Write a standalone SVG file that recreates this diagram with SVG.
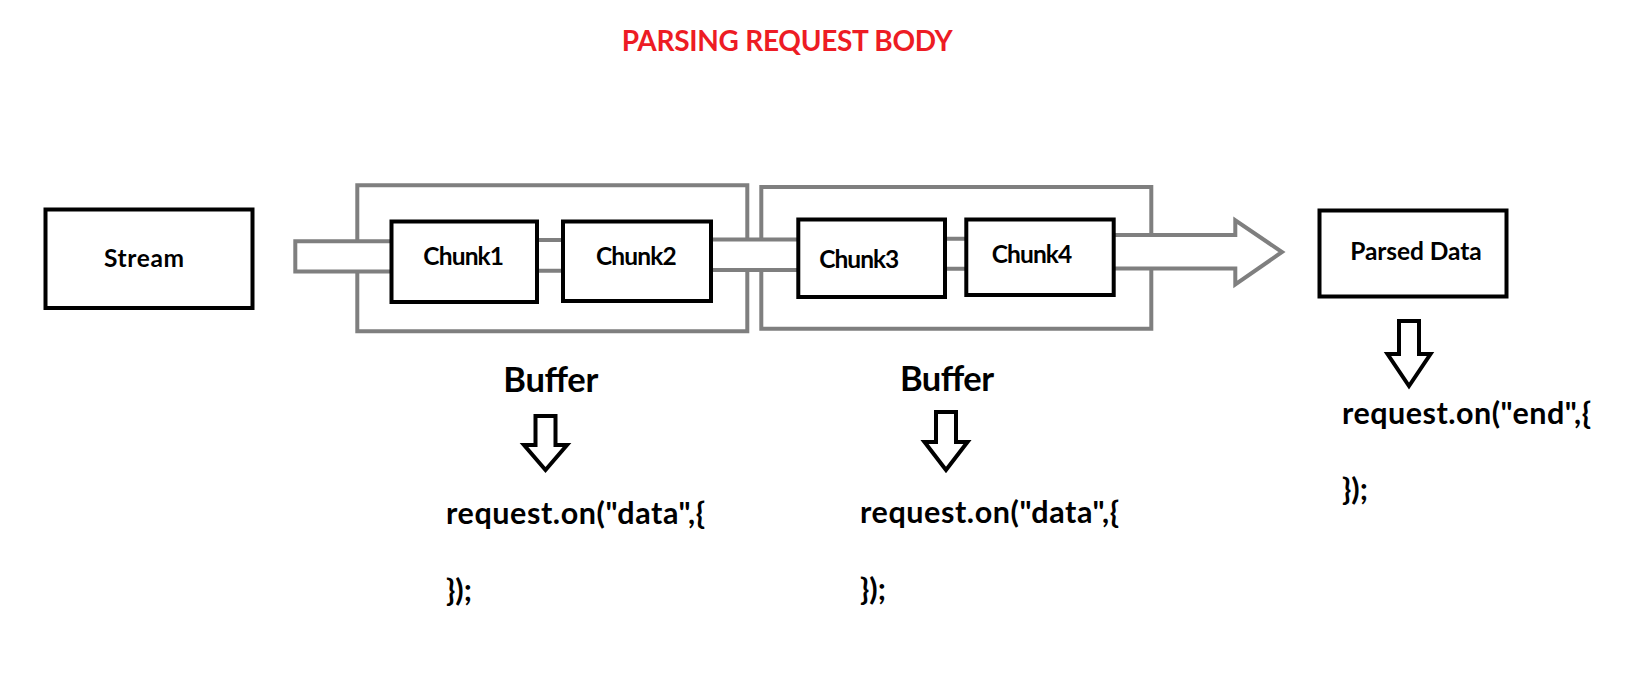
<svg xmlns="http://www.w3.org/2000/svg" width="1644" height="695" viewBox="0 0 1644 695">
<style>
  .box { fill: #ffffff; stroke: #000000; stroke-width: 4; }
  .gray { fill: none; stroke: #7f7f7f; stroke-width: 4; stroke-linejoin: miter; }
  .down { fill: #ffffff; stroke: #000000; stroke-width: 4; stroke-linejoin: miter; }
  .lbl { font-family: Lato, "Liberation Sans", sans-serif; font-weight: bold; font-size: 24.5px; fill: #000000; }
  .buf { font-family: Lato, "Liberation Sans", sans-serif; font-weight: bold; font-size: 34.5px; fill: #000000; }
  .code { font-family: Lato, "Liberation Sans", sans-serif; font-weight: bold; font-size: 30.5px; fill: #000000; }
  .title { font-family: Lato, "Liberation Sans", sans-serif; font-weight: bold; font-size: 28px; fill: #ed1c24; }
</style>
<rect x="0" y="0" width="1644" height="695" fill="#ffffff"/>

<text class="title" x="621.7" y="50.5" textLength="331">PARSING REQUEST BODY</text>

<g id="buffer-frame-1">
  <path class="gray" d="M357.3,241.3 V185.3 H747.3 V240 M357.3,271.5 V331.3 H747.3 V270"/>
</g>
<g id="buffer-frame-2">
  <path class="gray" d="M761.3,239.5 V187 H1151.3 V236 M761.3,269.5 V328.7 H1151.3 V268"/>
</g>

<g id="connectors">
  <path class="gray" d="M391,241.3 H295.3 V271.5 H391"/>
  <path class="gray" d="M537,240 H563 M537,270.7 H563"/>
  <path class="gray" d="M711,239.5 H798 M711,270 H798"/>
  <path class="gray" d="M945,238.7 H966 M945,268.7 H966"/>
  <path class="gray" d="M1113.7,235 H1235.3 V220.3 L1282,252 L1235.3,284.5 V268.5 H1113.7"/>
  <polygon class="down" points="535.5,416 555.5,416 555.5,445 567,445 545.5,470 524,445 535.5,445"/>
  <polygon class="down" points="936,412 956,412 956,442 967.5,442 946,470 924.5,442 936,442"/>
  <polygon class="down" points="1399,321 1419,321 1419,354 1430.5,354 1409,386 1387.5,354 1399,354"/>
</g>

<g id="stream">
  <rect class="box" x="45.5" y="209.5" width="207" height="98.5"/>
  <text class="lbl" x="144" y="266.7" text-anchor="middle" textLength="80">Stream</text>
</g>
<g id="chunk1">
  <rect class="box" x="391.5" y="221.5" width="145.5" height="80.5"/>
  <text class="lbl" x="463.7" y="265" text-anchor="middle" textLength="80.7">Chunk1</text>
</g>
<g id="chunk2">
  <rect class="box" x="563" y="221.5" width="148" height="79.5"/>
  <text class="lbl" x="636.3" y="265" text-anchor="middle" textLength="80.7">Chunk2</text>
</g>
<g id="chunk3">
  <rect class="box" x="798.3" y="219.5" width="146.7" height="77.5"/>
  <text class="lbl" x="859.3" y="268.3" text-anchor="middle" textLength="80">Chunk3</text>
</g>
<g id="chunk4">
  <rect class="box" x="966.3" y="219.5" width="147.4" height="75.5"/>
  <text class="lbl" x="1032" y="263.3" text-anchor="middle" textLength="80.6">Chunk4</text>
</g>
<g id="parsed-data">
  <rect class="box" x="1319.5" y="210.5" width="187" height="86"/>
  <text class="lbl" x="1416" y="260" text-anchor="middle" textLength="131.5">Parsed Data</text>
</g>

<g id="buffer-label-1">
  <text class="buf" x="550.8" y="391.7" text-anchor="middle" textLength="95">Buffer</text>
</g>
<g id="buffer-label-2">
  <text class="buf" x="947" y="390.7" text-anchor="middle" textLength="94">Buffer</text>
</g>

<g id="data-handler-1">
  <text class="code" x="446" y="524" textLength="259">request.on("data",{</text>
  <text class="code" x="446" y="601">});</text>
</g>
<g id="data-handler-2">
  <text class="code" x="860" y="523" textLength="259">request.on("data",{</text>
  <text class="code" x="860" y="600">});</text>
</g>
<g id="end-handler">
  <text class="code" x="1342" y="423.5" textLength="249">request.on("end",{</text>
  <text class="code" x="1342" y="500">});</text>
</g>
</svg>
